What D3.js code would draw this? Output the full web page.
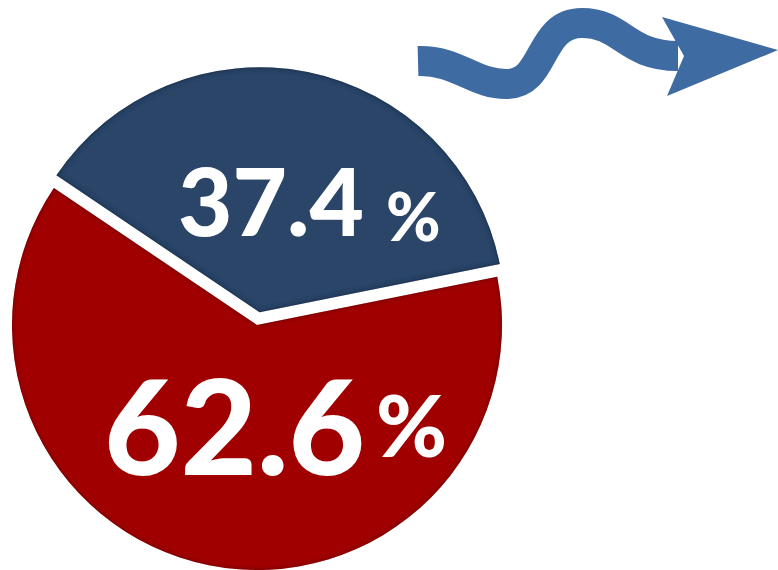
<!DOCTYPE html>
<html><head><meta charset="utf-8">
<script src="https://cdn.jsdelivr.net/npm/d3@7"></script>
<style>html,body{margin:0;padding:0;background:#fff;}svg{display:block;}</style>
</head><body>
<svg id="chart" width="778" height="570"></svg>
<script>
const categories = ["Blue", "Red"];
const values = [37.4, 62.6];
const valueLabels = ["37.4", "62.6"];
const colors = ["#2a4468", "#a00000"];

const svg = d3.select("#chart");
const defs = svg.append("defs");
const f = defs.append("filter").attr("id","inner").attr("x","-10%").attr("y","-10%").attr("width","120%").attr("height","120%");
f.append("feFlood").attr("flood-color","#000").attr("flood-opacity",0.75).attr("result","fl");
f.append("feComposite").attr("in","fl").attr("in2","SourceAlpha").attr("operator","out").attr("result","outside");
f.append("feGaussianBlur").attr("in","outside").attr("stdDeviation",2.5).attr("result","bl");
f.append("feComposite").attr("in","bl").attr("in2","SourceAlpha").attr("operator","in").attr("result","sh");
const m = f.append("feMerge");
m.append("feMergeNode").attr("in","SourceGraphic");
m.append("feMergeNode").attr("in","sh");

// wavy arrow decoration
const arrow = svg.append("g");
arrow.append("path")
  .attr("d","M418,61 C458,60 474,85 508,84 C546,83 538,23 582,23 C622,23 626,56 678,56")
  .attr("fill","none").attr("stroke","#3f6ba3").attr("stroke-width",30);
arrow.append("path")
  .attr("d","M662,17 L778,50 L667,96 L684,56 Z")
  .attr("fill","#3f6ba3");

const cx = 257, cy = 325, r = 245;
const start = -56 * Math.PI/180;
const pie = d3.pie().sort(null).startAngle(start).endAngle(start + 2*Math.PI);
const arcs = pie(values);
const arc = d3.arc().innerRadius(0).outerRadius(r);
const explode = [13, 0];

const g = svg.append("g").attr("transform", `translate(${cx},${cy})`);
g.selectAll("path.slice").data(arcs).join("path")
  .attr("class","slice")
  .attr("d", arc)
  .attr("fill", (d,i)=>colors[i])
  .attr("filter","url(#inner)")
  .attr("transform", (d,i)=>{
    const a = (d.startAngle + d.endAngle)/2;
    return `translate(${Math.sin(a)*explode[i]},${-Math.cos(a)*explode[i]})`;
  });

// labels
const labelPos = [
  {x:178, y:236, size:94, px:386, py:241, psize:66},
  {x:104, y:475, size:132, px:376, py:457, psize:86}
];
arcs.forEach((d,i)=>{
  const p = labelPos[i];
  g.append("text")
    .attr("x", p.x - cx).attr("y", p.y - cy)
    .attr("fill","#fff").attr("font-family","Lato, 'Open Sans', sans-serif")
    .attr("font-weight","900").attr("font-size", p.size)
    .text(valueLabels[i]);
  g.append("text")
    .attr("x", p.px - cx).attr("y", p.py - cy)
    .attr("fill","#fff").attr("font-family","Lato, 'Open Sans', sans-serif")
    .attr("font-weight","900").attr("font-size", p.psize)
    .text("%");
});
</script>
</body></html>
